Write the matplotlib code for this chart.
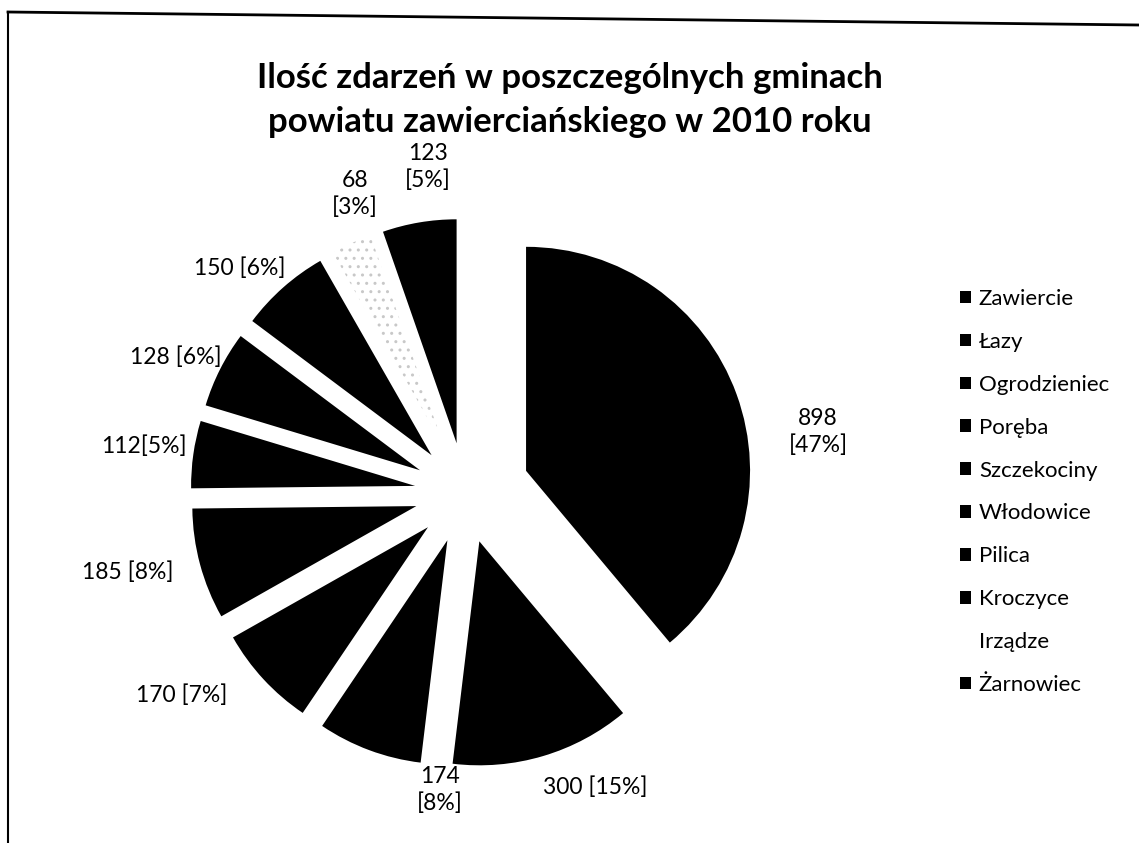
import matplotlib
matplotlib.use("Agg")
import matplotlib.pyplot as plt
from matplotlib.patches import Patch
from matplotlib.lines import Line2D

# ---- data ----
gminy = ["Zawiercie", "Łazy", "Ogrodzieniec", "Poręba", "Szczekociny",
         "Włodowice", "Pilica", "Kroczyce", "Irządze", "Żarnowiec"]
zdarzenia = [898, 300, 174, 170, 185, 112, 128, 150, 68, 123]
etykiety = ["898\n[47%]", "300 [15%]", "174\n[8%]", "170 [7%]", "185 [8%]",
            "112[5%]", "128 [6%]", "150 [6%]", "68\n[3%]", "123\n[5%]"]
title = "Ilość zdarzeń w poszczególnych gminach\npowiatu zawierciańskiego w 2010 roku"

# ---- layout (pixels) ----
W, H = 1139, 843
CX, CY, R = 465, 493, 224
label_px = [(818, 432), (595, 787), (440, 790), (182, 695), (128, 572),
            (144, 446), (176, 357), (240, 268), (355, 194), (428, 167)]

plt.rcParams['font.family'] = ['Lato', 'DejaVu Sans']
plt.rcParams['hatch.color'] = '#c8c8c8'
fig = plt.figure(figsize=(W / 100, H / 100), dpi=100)
ax = fig.add_axes([0, 0, 1, 1])

explode = [0.29] + [0.225] * (len(zdarzenia) - 1)
wedges, _ = ax.pie(zdarzenia, startangle=90, counterclock=False, explode=explode,
                   radius=1, colors=["black"] * len(zdarzenia),
                   wedgeprops=dict(linewidth=0))
# Irządze: light stippled
w = wedges[gminy.index("Irządze")]
w.set_facecolor("white")
w.set_edgecolor("#c8c8c8")
w.set_linewidth(0)
w.set_hatch("..")

ax.set_xlim(-CX / R, (W - CX) / R)
ax.set_ylim((CY - H) / R, CY / R)
ax.axis("off")

for txt, (px, py) in zip(etykiety, label_px):
    ax.text((px - CX) / R, (CY - py) / R, txt, ha="center", va="center",
            fontsize=16.5, color="black", linespacing=1.25)

fig.text(570 / W, 1 - 100 / H, title, ha="center", va="center",
         fontsize=25, fontweight="bold", linespacing=1.5)

handles = []
for g in gminy:
    fc = "white" if g == "Irządze" else "black"
    handles.append(Patch(facecolor=fc, edgecolor="none"))
fig.legend(handles, gminy, loc="upper left", bbox_to_anchor=(960 / W, 1 - 289 / H),
           frameon=False, fontsize=16, handlelength=0.5, handleheight=0.5,
           handletextpad=0.35, labelspacing=1.03, borderaxespad=0, borderpad=0)

# scanned frame lines
fig.add_artist(Line2D([8 / W, 1], [1 - 12 / H, 1 - 25 / H], transform=fig.transFigure,
                      color="black", lw=2))
fig.add_artist(Line2D([8 / W, 8 / W], [1 - 12 / H, 0], transform=fig.transFigure,
                      color="black", lw=1.5))

fig.savefig("out.png", dpi=100, facecolor="white")
